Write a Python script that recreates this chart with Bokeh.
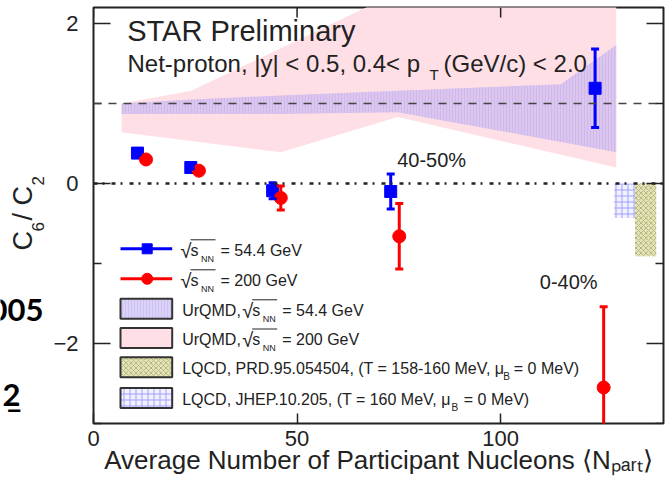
import math
from bokeh.plotting import figure
from bokeh.layouts import row
from bokeh.models import (Range1d, FixedTicker, Span, Label,
                          Whisker, TeeHead, ColumnDataSource)
from bokeh.embed import file_html
from bokeh.resources import INLINE

# ---------------- data ----------------
npart_544 = [10.8, 23.9, 44.0, 73.0, 123.2]
c6c2_544 = [0.38, 0.20, -0.09, -0.10, 1.19]
err_544 = [0.02, 0.02, 0.10, 0.22, 0.49]

npart_200 = [12.9, 25.9, 46.0, 75.1, 125.3]
c6c2_200 = [0.30, 0.16, -0.18, -0.66, -2.55]
err_200 = [0.02, 0.02, 0.15, 0.41, 1.01]

urqmd200_npart = [6.9, 24.0, 46.0, 74.7, 128.4]
urqmd200_low = [0.64, 0.53, 0.39, 0.83, 0.20]
urqmd200_high = [1.00, 1.16, 1.69, 2.39, 3.00]

urqmd544_npart = [6.9, 24.0, 46.0, 74.7, 114.8, 128.4]
urqmd544_low = [0.87, 0.87, 0.87, 0.89, 0.52, 0.39]
urqmd544_high = [1.00, 1.05, 1.10, 1.16, 1.24, 1.73]

lqcd_names = ["PRD.95.054504", "JHEP.10.205"]
lqcd_left = [133.0, 127.9]
lqcd_right = [138.2, 133.0]
lqcd_top = [0.0, 0.0]
lqcd_bottom = [-0.91, -0.43]

x_ticks = [0, 50, 100]
y_ticks = [-2, 0, 2]
y_minor_ticks = [-3, -1, 1]
y_tick_labels = {-2: "\u22122", 0: "0", 2: "2"}

# ---------------- layout ----------------
SW = 48                      # left strip (y title + slide fragments)
W, H = 666 - SW, 490         # main figure
BL, BR, BT, BB = 45, 3, 7, 67
FW, FH = W - BL - BR, H - BT - BB
XR = (0, 140)
YR = (-3, 2.2)
X0 = SW + BL                 # screen x of frame left
Y0 = BT                      # screen y of frame top


def sx2x(px):
    return XR[0] + (px - X0) / FW * (XR[1] - XR[0])


def sy2y(py):
    return YR[1] - (py - Y0) / FH * (YR[1] - YR[0])


FONT = "Liberation Sans"
TXT = "#222222"
MID = 0.35   # baseline lies this many em below the middle of the text box

p = figure(width=W, height=H, min_border_left=BL, min_border_right=BR,
           min_border_top=BT, min_border_bottom=BB,
           x_range=Range1d(*XR), y_range=Range1d(*YR),
           output_backend="svg", toolbar_location=None)
p.grid.visible = False
p.outline_line_color = TXT
p.outline_line_width = 2
p.background_fill_color = "white"
p.border_fill_color = "white"

xa = p.xaxis[0]
xa.ticker = FixedTicker(ticks=x_ticks, minor_ticks=[])
xa.axis_label = "Average Number of Participant Nucleons \u27e8N\u209a\u2090\u1d63\u209c\u27e9"
xa.axis_label_text_font = FONT
xa.axis_label_text_font_size = "26px"
xa.axis_label_text_font_style = "normal"
xa.axis_label_text_color = TXT
xa.axis_label_standoff = -4
ya = p.yaxis[0]
ya.ticker = FixedTicker(ticks=y_ticks, minor_ticks=y_minor_ticks)
ya.major_label_overrides = y_tick_labels
for ax, tin, mtin, standoff in [(xa, 10, 0, 7), (ya, 17, 8, 15)]:
    ax.axis_line_color = None
    ax.major_tick_in = tin
    ax.major_tick_out = 0
    ax.minor_tick_in = mtin
    ax.minor_tick_out = 0
    ax.major_tick_line_color = TXT
    ax.minor_tick_line_color = TXT
    ax.major_tick_line_width = 1.5
    ax.minor_tick_line_width = 1.5
    ax.major_label_text_font = FONT
    ax.major_label_text_font_size = "22px"
    ax.major_label_text_color = TXT
    ax.major_label_standoff = standoff

# ---------------- model bands ----------------
PINK = "#ffdfe6"
LAV = "#c4b4f4"
LAV_H = "#a494e4"
OLIVE = "#e2e2bc"
OLIVE_H = "#b9b978"
BLUEB = "#f2f2ff"
BLUEB_H = "#a0a0ff"

p.varea(x=urqmd200_npart, y1=urqmd200_low, y2=urqmd200_high, fill_color=PINK)
p.varea(x=urqmd544_npart, y1=urqmd544_low, y2=urqmd544_high, fill_color=LAV,
        fill_alpha=0.6, hatch_pattern="|", hatch_color=LAV_H, hatch_alpha=0.25,
        hatch_scale=3, hatch_weight=1)

p.quad(left=lqcd_left[:1], right=lqcd_right[:1], top=lqcd_top[:1], bottom=lqcd_bottom[:1],
       fill_color=OLIVE, line_color=None, hatch_pattern="x", hatch_color=OLIVE_H,
       hatch_scale=5, hatch_weight=1)
p.quad(left=lqcd_left[1:], right=lqcd_right[1:], top=lqcd_top[1:], bottom=lqcd_bottom[1:],
       fill_color=BLUEB, line_color=None, hatch_pattern="+", hatch_color=BLUEB_H,
       hatch_scale=6, hatch_weight=1)

p.add_layout(Span(location=1, dimension="width", line_color="#444444",
                  line_dash="8 7", line_width=1.5))
p.add_layout(Span(location=0, dimension="width", line_color=TXT,
                  line_dash="4 5 2 7", line_width=2.5))

# inward ticks on the top and right frame edges, from the same tick lists
dy_top = 10 * (YR[1] - YR[0]) / FH
dx_maj = 17 * (XR[1] - XR[0]) / FW
dx_min = 8 * (XR[1] - XR[0]) / FW
p.segment(x0=x_ticks, y0=[YR[1]] * len(x_ticks), x1=x_ticks,
          y1=[YR[1] - dy_top] * len(x_ticks), line_color=TXT, line_width=1.5)
p.segment(x0=[XR[1]] * len(y_ticks), y0=y_ticks, x1=[XR[1] - dx_maj] * len(y_ticks),
          y1=y_ticks, line_color=TXT, line_width=1.5)
p.segment(x0=[XR[1]] * len(y_minor_ticks), y0=y_minor_ticks,
          x1=[XR[1] - dx_min] * len(y_minor_ticks), y1=y_minor_ticks,
          line_color=TXT, line_width=1.5)

# ---------------- data points ----------------
BLUE = "#0000ff"
RED = "#ff0000"
for xs, ys, es, col in [(npart_544, c6c2_544, err_544, BLUE),
                        (npart_200, c6c2_200, err_200, RED)]:
    src = ColumnDataSource(dict(x=xs, lo=[y - e for y, e in zip(ys, es)],
                                hi=[y + e for y, e in zip(ys, es)]))
    p.add_layout(Whisker(source=src, base="x", lower="lo", upper="hi",
                         line_color=col, line_width=3, level="glyph",
                         upper_head=TeeHead(size=8, line_color=col, line_width=3),
                         lower_head=TeeHead(size=8, line_color=col, line_width=3)))

p.scatter(npart_544, c6c2_544, marker="square", size=12, color=BLUE)
p.scatter(npart_200, c6c2_200, marker="circle", size=13, color=RED)


# ---------------- texts inside the frame ----------------
def T(text, px, py, size, font=FONT, align="left", style="normal", color=TXT):
    p.add_layout(Label(x=sx2x(px), y=sy2y(py - MID * size), text=text, text_font=font,
                       text_font_size=f"{size}px", text_color=color, text_align=align,
                       text_baseline="middle", text_font_style=style))


T("STAR Preliminary", 126.7, 40.5, 29)
T("Net-proton, |y| < 0.5, 0.4< p", 127, 71.7, 24)
T("T", 429, 79, 15)
T("(GeV/c) < 2.0", 443, 71.7, 24)
T("40-50%", 396.7, 166.7, 20)
T("0-40%", 539.3, 288.3, 20)

# legend
rows = [248.3, 278.3, 308.3, 337.5, 366.7, 397.5]
LX0, LX1, LXM = 120, 171.7, 146.7
for ry, col, mk, sz in [(rows[0], BLUE, "square", 10), (rows[1], RED, "circle", 11)]:
    p.line([sx2x(LX0), sx2x(LX1)], [sy2y(ry)] * 2, line_color=col, line_width=3)
    p.scatter([sx2x(LXM)], [sy2y(ry)], marker=mk, size=sz, color=col)
for ry, fc, fa, hp, hc, hs in [(rows[2], LAV, 0.6, "|", LAV_H, 3),
                               (rows[3], PINK, 1.0, None, None, 1),
                               (rows[4], OLIVE, 1.0, "x", OLIVE_H, 5),
                               (rows[5], BLUEB, 1.0, "+", BLUEB_H, 6)]:
    kw = dict(hatch_pattern=hp, hatch_color=hc, hatch_scale=hs, hatch_weight=1,
              hatch_alpha=0.25 if hp == "|" else 1.0) if hp else {}
    p.quad(left=[sx2x(LX0)], right=[sx2x(LX1)], top=[sy2y(ry - 10)], bottom=[sy2y(ry + 10)],
           fill_color=fc, fill_alpha=fa, line_color="#333333", line_width=2, **kw)


def sqrt_s(px0, ry):
    T("\u221a", px0, ry + 9, 20)
    T("s", px0 + 10, ry + 7, 16)
    T("NN", px0 + 20.5, ry + 13, 9)
    p.segment([sx2x(px0 + 10)], [sy2y(ry - 9)], [sx2x(px0 + 35)], [sy2y(ry - 9)],
              line_color=TXT, line_width=1)
    return px0 + 40


T("= 54.4 GeV", sqrt_s(180, rows[0]), rows[0] + 7, 16)
T("= 200 GeV", sqrt_s(180, rows[1]), rows[1] + 7, 16)
T("UrQMD,", 181.7, rows[2] + 7, 16)
T("= 54.4 GeV", sqrt_s(241.7, rows[2]), rows[2] + 7, 16)
T("UrQMD,", 181.7, rows[3] + 7, 16)
T("= 200 GeV", sqrt_s(241.7, rows[3]), rows[3] + 7, 16)
T("LQCD, " + lqcd_names[0] + ", (T = 158-160 MeV, \u03bc", 181.7, rows[4] + 7, 16)
T("B", 502.7, rows[4] + 13, 10)
T("= 0 MeV)", 513.3, rows[4] + 7, 16)
T("LQCD, " + lqcd_names[1] + ", (T = 160 MeV, \u03bc", 181.7, rows[5] + 7, 16)
T("B", 451, rows[5] + 13, 10)
T("= 0 MeV)", 463.3, rows[5] + 7, 16)

# ---------------- left strip: y title and slide fragments ----------------
s = figure(width=SW, height=H, x_range=Range1d(0, SW), y_range=p.y_range,
           min_border_left=0, min_border_right=0, min_border_top=BT, min_border_bottom=BB,
           x_axis_location=None, y_axis_location=None,
           output_backend="svg", toolbar_location=None)
s.grid.visible = False
s.outline_line_color = None
s.background_fill_color = "white"
s.border_fill_color = "white"


def S(text, px, py, size, font=FONT, align="left", angle=0.0, style="normal",
      color=TXT, mid=MID):
    if angle:
        x, y = px - mid * size, sy2y(py)
    else:
        x, y = px, sy2y(py - mid * size)
    s.add_layout(Label(x=x, y=y, text=text, text_font=font,
                       text_font_size=f"{size}px", text_color=color, text_align=align,
                       text_baseline="middle", angle=angle, text_font_style=style))


A = math.pi / 2
S("C", 32, 250, 27, angle=A)
S("6", 43, 231, 17, angle=A)
S("/", 32, 220, 27, angle=A)
S("C", 32, 205, 27, angle=A)
S("2", 43, 185, 17, angle=A)

S("005", 43, 322, 31, font="Lato", align="right", style="bold", color="#000000", mid=0.39)
S("2", 20, 407, 31, font="Lato", align="right", style="bold", color="#000000", mid=0.39)
S("_", 21, 407, 31, font="Lato", align="right", style="bold", color="#000000", mid=0.39)

layout = row(s, p)
open("out.html", "w").write(file_html(layout, INLINE))
